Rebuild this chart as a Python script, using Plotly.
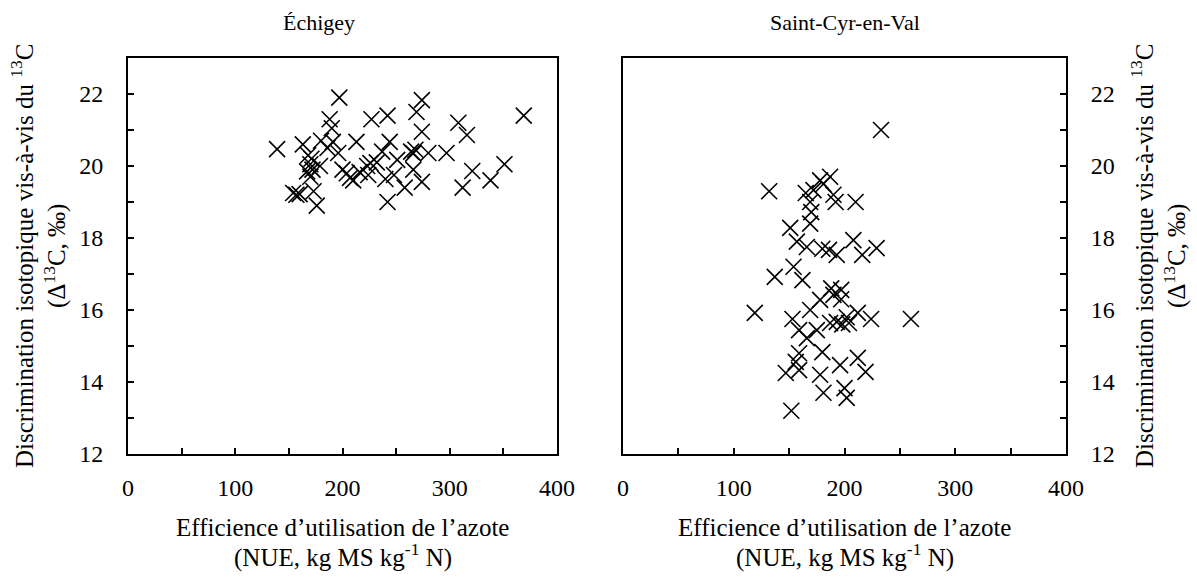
import plotly.graph_objects as go

# Échigey
echigey_nue = [139, 154, 157, 160, 163, 167, 168, 170, 171, 172, 170, 173, 176, 179, 180,
               186, 188, 190, 191, 196, 197, 200, 204, 207, 213, 216, 223, 224, 227, 226,
               232, 237, 240, 242, 242, 244, 251, 258, 264, 266, 268, 266, 269, 274, 274,
               274, 280, 297, 308, 312, 316, 321, 338, 351, 369, 210, 248]
echigey_d13c = [20.47, 19.25, 19.2, 19.22, 20.6, 19.85, 20.3, 20.05, 20.2, 19.9, 19.7, 19.3, 18.9, 20.0, 20.7,
                20.5, 21.3, 21.05, 20.67, 20.36, 21.9, 19.9, 19.8, 19.67, 20.67, 19.83, 20.0, 19.75, 21.3, 20.08,
                20.1, 20.4, 19.64, 21.4, 19.0, 20.67, 20.17, 19.4, 20.4, 20.35, 20.45, 19.9, 21.5, 21.83, 20.95,
                19.56, 20.36, 20.36, 21.2, 19.4, 20.86, 19.86, 19.6, 20.05, 21.4, 19.6, 19.75]

# Saint-Cyr-en-Val
scv_nue = [132, 165, 187, 178, 172, 190, 192, 210, 169, 170, 169, 151, 157, 166, 180,
           186, 193, 208, 216, 229, 154, 137, 162, 188, 119, 153, 169, 178, 190, 197,
           212, 224, 187, 193, 198, 204, 202, 159, 166, 175, 180, 159, 156, 159, 147,
           178, 196, 212, 219, 181, 200, 202, 152, 233, 260, 181, 197]
scv_d13c = [19.3, 19.25, 19.7, 19.6, 19.33, 19.2, 19.0, 19.0, 19.0, 18.72, 18.4, 18.28, 17.9, 17.75, 17.7,
            17.67, 17.53, 17.94, 17.53, 17.72, 17.2, 16.92, 16.83, 16.6, 15.92, 15.75, 16.0, 16.28, 16.42, 16.56,
            15.92, 15.75, 15.64, 15.67, 15.6, 15.64, 15.8, 15.44, 15.22, 15.44, 14.83, 14.8, 14.56, 14.33, 14.25,
            14.2, 14.47, 14.67, 14.28, 13.7, 13.83, 13.56, 13.2, 21.0, 15.75, 19.5, 16.3]

panel_titles = ["Échigey", "Saint-Cyr-en-Val"]
x_title_lines = ["Efficience d’utilisation de l’azote", "(NUE, kg MS kg<sup>-1</sup> N)"]
y_title = "Discrimination isotopique vis-à-vis du <sup>13</sup>C<br>(Δ<sup>13</sup>C, ‰)"
x_ticks = [0, 100, 200, 300, 400]
y_ticks = [12, 14, 16, 18, 20, 22]

FONT = "Liberation Serif, Times New Roman, serif"
W, H = 1197, 578
TICK_SIZE = 24
TITLE_SIZE = 22
AXT_SIZE = 25

fig = go.Figure()
marker = dict(symbol="x-thin", size=16, line=dict(color="black", width=1.6), color="black")
fig.add_trace(go.Scatter(x=echigey_nue, y=echigey_d13c, mode="markers", marker=marker,
                         xaxis="x", yaxis="y", showlegend=False))
fig.add_trace(go.Scatter(x=scv_nue, y=scv_d13c, mode="markers", marker=marker,
                         xaxis="x2", yaxis="y2", showlegend=False))

dom_x1 = [128 / W, 557 / W]
dom_x2 = [623 / W, 1066 / W]
dom_y = [(H - 454) / H, (H - 58) / H]

common_x = dict(range=[0, 400], tickvals=x_ticks, ticks="inside", ticklen=6, tickwidth=1.5,
                tickcolor="black", showline=True, linecolor="black", linewidth=2, mirror=True,
                showgrid=False, zeroline=False, tickfont=dict(family=FONT, size=TICK_SIZE, color="black"),
                minor=dict(dtick=50, tick0=0, ticks="inside", ticklen=6, tickwidth=1.5, tickcolor="black",
                           showgrid=False),
                automargin=False, fixedrange=True)
common_y = dict(range=[12, 23], tickvals=y_ticks, ticks="inside", ticklen=6, tickwidth=1.5,
                tickcolor="black", showline=True, linecolor="black", linewidth=2, mirror=True,
                showgrid=False, zeroline=False, tickfont=dict(family=FONT, size=TICK_SIZE, color="black"),
                minor=dict(dtick=1, tick0=12, ticks="inside", ticklen=6, tickwidth=1.5, tickcolor="black",
                           showgrid=False),
                automargin=False, fixedrange=True)

fig.update_layout(
    width=W, height=H,
    margin=dict(l=0, r=0, t=0, b=0, pad=0, autoexpand=False),
    showlegend=False,
    paper_bgcolor="white", plot_bgcolor="white",
    font=dict(family=FONT, size=AXT_SIZE, color="black"),
    xaxis=dict(domain=dom_x1, anchor="y", ticklabelstandoff=11, **common_x),
    yaxis=dict(domain=dom_y, anchor="x", side="left", ticklabelstandoff=18, **common_y),
    xaxis2=dict(domain=dom_x2, anchor="y2", ticklabelstandoff=11, **common_x),
    yaxis2=dict(domain=dom_y, anchor="x2", side="right", ticklabelstandoff=18, **common_y),
)

title_x = [319 / W, (dom_x2[0] + dom_x2[1]) / 2]
annotations = []
for t, tx, d in zip(panel_titles, title_x, [dom_x1, dom_x2]):
    cx = (d[0] + d[1]) / 2
    annotations.append(dict(text=t, x=tx, y=1 - 22 / H, xref="paper", yref="paper",
                            showarrow=False, xanchor="center", yanchor="middle",
                            font=dict(family=FONT, size=TITLE_SIZE, color="black")))
    for line, ly in zip(x_title_lines, [527, 555]):
        annotations.append(dict(text=line, x=cx, y=1 - ly / H, xref="paper", yref="paper",
                                showarrow=False, xanchor="center", yanchor="middle",
                                font=dict(family=FONT, size=AXT_SIZE, color="black")))
annotations.append(dict(text=y_title, x=38 / W, y=(dom_y[0] + dom_y[1]) / 2, xref="paper", yref="paper",
                        showarrow=False, textangle=-90, xanchor="center", yanchor="middle",
                        font=dict(family=FONT, size=AXT_SIZE, color="black")))
annotations.append(dict(text=y_title, x=1158 / W, y=(dom_y[0] + dom_y[1]) / 2, xref="paper", yref="paper",
                        showarrow=False, textangle=-90, xanchor="center", yanchor="middle",
                        font=dict(family=FONT, size=AXT_SIZE, color="black")))
fig.update_layout(annotations=annotations)

fig.write_html("out.html", post_script="document.body.style.margin='0';",
               config={"displayModeBar": False})
